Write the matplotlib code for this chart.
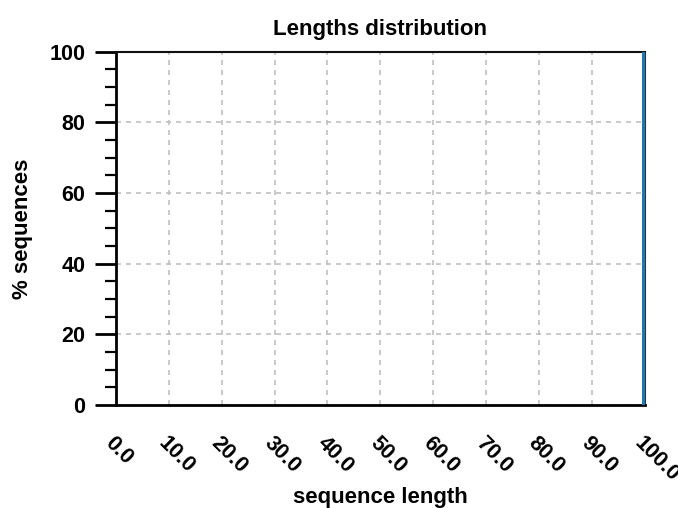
import matplotlib
matplotlib.use("Agg")
import matplotlib.pyplot as plt
from matplotlib.ticker import MultipleLocator

plt.rcParams['font.family'] = ['Liberation Sans', 'DejaVu Sans']
plt.rcParams['font.weight'] = 'bold'

lengths = [100]
pct_sequences = [100.0]
xticks = [0, 10, 20, 30, 40, 50, 60, 70, 80, 90, 100]
xtick_labels = ["0.0", "10.0", "20.0", "30.0", "40.0", "50.0", "60.0", "70.0", "80.0", "90.0", "100.0"]
yticks = [0, 20, 40, 60, 80, 100]

fig = plt.figure(figsize=(6.78, 5.08), dpi=100)
ax = fig.add_axes([0.171, 0.203, 0.780, 0.695])

ax.bar(lengths, pct_sequences, width=1.2, color='#1f77b4', zorder=3)

ax.set_xlim(0, 100)
ax.set_ylim(0, 100)
ax.set_xticks(xticks)
ax.set_xticklabels(xtick_labels, rotation=-45, ha='left', va='top',
                   rotation_mode='anchor', fontsize=15.5, fontweight='bold')
ax.set_yticks(yticks)
ax.yaxis.set_minor_locator(MultipleLocator(5))
ax.tick_params(axis='y', which='major', length=15, width=2, labelsize=15.5,
               direction='out', pad=7)
ax.tick_params(axis='y', which='minor', length=8, width=1.6, direction='out')
ax.tick_params(axis='x', which='both', length=0, pad=20)
for lab in ax.get_yticklabels():
    lab.set_fontweight('bold')

ax.grid(True, which='major', linestyle=(0, (3, 3)), color='#c0c0c0', linewidth=1.2)
ax.set_axisbelow(True)

for side in ['left', 'bottom']:
    ax.spines[side].set_linewidth(2)
    ax.spines[side].set_color('black')
ax.spines['top'].set_linewidth(1.5)
ax.spines['right'].set_linewidth(1.5)
ax.spines['top'].set_color('#111111')
ax.spines['right'].set_color('#333333')

ax.set_title('Lengths distribution', fontsize=16, fontweight='bold', pad=12)
ax.set_xlabel('sequence length', fontsize=16, fontweight='bold')
ax.xaxis.set_label_coords(0.5, -0.232)
ax.set_ylabel('% sequences', fontsize=16, fontweight='bold', labelpad=12)

fig.savefig('out.png', dpi=100)
